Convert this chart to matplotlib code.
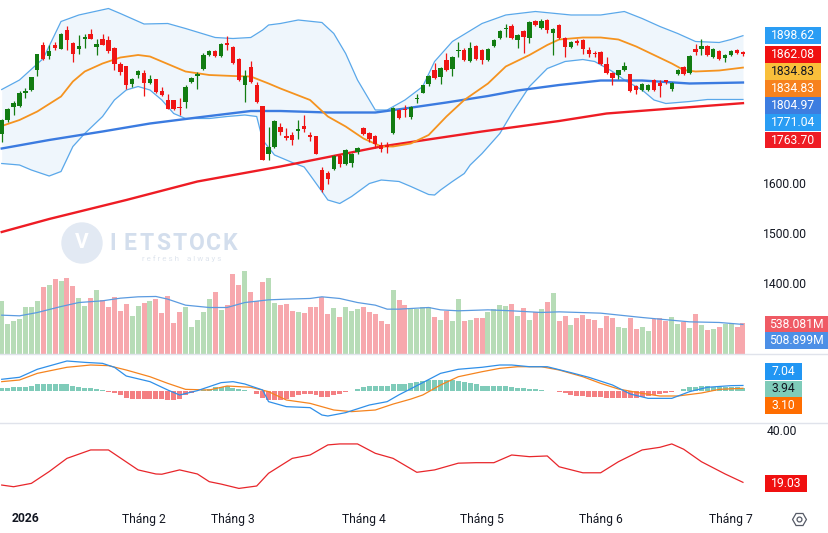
import matplotlib
matplotlib.use('Agg')
import matplotlib.pyplot as plt
import matplotlib.transforms as mtrans
from matplotlib.patches import Rectangle, Ellipse
import numpy as np

plt.rcParams['font.family'] = ['Roboto', 'DejaVu Sans']

W, H = 829, 533

# ---------------- data ----------------
opens = [1703,1730,1757,1759,1785,1791,1830,1880,1858,1880,
         1873,1910,1885,1873,1893,1903,1877,1893,1890,1875,
         1843,1839,1802,1821,1825,1805,1813,1789,1770,1771,
         1756,1767,1807,1818,1832,1860,1868,1858,1883,1877,
         1853,1800,1837,1800,1758,1663,1677,1717,1697,1700,
         1709,1718,1700,1698,1630,1625,1633,1659,1642,1645,
         1667,1715,1705,1699,1681,1679,1705,1750,1752,1737,
         1772,1785,1802,1831,1817,1851,1833,1868,1871,1849,
         1878,1870,1850,1878,1895,1912,1918,1891,1908,1895,
         1929,1915,1931,1905,1921,1895,1877,1889,1890,1870,
         1865,1867,1843,1825,1820,1831,1822,1798,1791,1791,
         1811,1805,1809,1793,1822,1837,1825,1873,1872,1879,
         1857,1869,1855,1860,1871,1867]
highs = [1733,1755,1768,1788,1795,1817,1862,1887,1880,1887,
         1904,1918,1887,1900,1902,1913,1893,1903,1898,1877,
         1847,1839,1815,1831,1830,1820,1813,1796,1782,1771,
         1775,1800,1817,1826,1864,1870,1870,1884,1898,1879,
         1855,1831,1848,1807,1758,1717,1730,1725,1715,1707,
         1731,1741,1707,1698,1637,1628,1660,1662,1673,1664,
         1677,1717,1707,1701,1687,1687,1757,1752,1761,1759,
         1783,1801,1820,1845,1837,1865,1859,1887,1875,1887,
         1880,1872,1875,1893,1910,1923,1922,1903,1910,1928,
         1931,1932,1933,1915,1923,1897,1889,1892,1892,1877,
         1869,1869,1857,1827,1831,1847,1823,1800,1805,1802,
         1813,1810,1810,1807,1833,1839,1861,1883,1893,1881,
         1875,1871,1863,1871,1873,1869]
lows = [1687,1726,1741,1757,1775,1789,1819,1850,1853,1871,
        1873,1871,1847,1863,1875,1893,1860,1881,1865,1831,
        1820,1793,1797,1815,1779,1803,1785,1778,1752,1750,
        1740,1755,1805,1792,1830,1858,1856,1856,1870,1843,
        1808,1767,1805,1765,1651,1651,1675,1700,1690,1680,
        1693,1707,1689,1663,1587,1603,1630,1637,1640,1637,
        1663,1700,1687,1675,1667,1665,1703,1733,1737,1733,
        1765,1784,1798,1813,1803,1829,1819,1857,1848,1847,
        1851,1842,1848,1876,1893,1897,1893,1875,1865,1885,
        1919,1913,1905,1860,1893,1857,1875,1880,1863,1857,
        1857,1841,1823,1800,1813,1829,1787,1782,1789,1789,
        1789,1777,1803,1788,1820,1821,1823,1860,1860,1858,
        1855,1851,1847,1858,1863,1858]
closes = [1730,1753,1765,1785,1788,1817,1862,1853,1868,1875,
          1902,1891,1862,1878,1897,1893,1883,1881,1869,1843,
          1827,1800,1813,1828,1805,1812,1787,1780,1753,1752,
          1754,1797,1815,1823,1861,1868,1859,1882,1881,1845,
          1810,1818,1807,1767,1651,1677,1728,1707,1695,1690,
          1711,1713,1697,1663,1590,1613,1658,1643,1671,1662,
          1675,1702,1693,1683,1673,1677,1755,1735,1750,1757,
          1774,1800,1819,1815,1835,1831,1857,1870,1850,1875,
          1853,1851,1873,1891,1908,1914,1895,1901,1897,1927,
          1921,1929,1911,1913,1895,1877,1887,1885,1873,1862,
          1862,1843,1825,1815,1830,1839,1789,1791,1803,1800,
          1791,1798,1807,1805,1831,1823,1859,1867,1879,1860,
          1873,1853,1861,1869,1865,1862.08]
volumes_m = [910,513,572,600,805,822,910,1155,1196,1300,
             1266,1313,1173,963,835,963,1108,933,822,980,
             735,863,660,835,881,910,951,706,998,531,
             718,805,455,583,718,951,1068,758,846,1388,
             1196,1435,1068,922,1243,1313,881,846,863,747,
             718,706,805,822,980,688,788,630,805,747,
             776,822,718,688,560,513,1108,933,846,770,
             775,805,805,630,583,747,560,951,572,583,
             618,618,718,776,846,835,863,660,788,583,
             718,776,904,1056,572,660,496,613,677,601,
             583,443,660,613,467,443,618,426,467,397,
             601,613,572,630,513,543,443,688,496,408,
             426,467,513,513,467,538.081]
macd_hist = [4.2,4.2,5.1,5.1,5.1,6.1,8.9,9.8,9.8,9.8,
             9.8,9.8,6.5,5.1,4.2,3.7,1.9,0.9,-1.9,-3.3,
             -6.5,-9.8,-11.2,-11.2,-11.2,-11.2,-11.2,-11.2,-12.6,-12.6,
             -11.2,-6.5,-3.3,-0.5,1.4,2.8,5.1,5.1,6.1,4.2,
             2.3,1.4,-0.5,-4.2,-9.8,-13.5,-13.5,-12.6,-11.2,-8.9,
             -6.5,-5.1,-5.1,-6.5,-8.9,-8.9,-6.5,-5.1,-1.9,-0.5,
             2.3,5.1,6.1,6.1,6.1,6.1,8.9,9.8,9.3,11.0,
             12.5,14.0,14.9,14.9,14.9,14.9,14.9,13.5,12.6,11.2,
             9.3,7.0,7.0,7.0,6.5,6.5,5.6,3.3,3.3,2.3,
             2.3,0.9,-0.5,-0.5,-1.4,-3.7,-6.1,-7.5,-7.5,-8.4,
             -8.4,-9.3,-10.7,-10.7,-10.7,-10.7,-10.7,-9.8,-8.4,-7.5,
             -6.1,-4.7,-2.8,-1.4,-0.5,1.9,4.7,5.6,6.5,6.5,
             5.6,5.6,5.6,4.7,4.7,3.94]

# indicator lines sampled at candle indices
bb_up_idx = [0,3,7,10,13,18,20,24,28,31,36,39,42,44,45,47,50,54,56,58,60,63,65,68,71,73,76,81,85,90,96,101,105,108,111,114,117,121,123,125]
bb_up_val = [1791,1810,1853,1927,1940,1953,1943,1922,1923,1913,1895,1893,1895,1910,1920,1923,1930,1925,1903,1863,1810,1750,1750,1770,1797,1847,1887,1923,1940,1947,1940,1940,1947,1933,1917,1903,1887,1885,1891,1898.62]
bb_lo_idx = [0,3,5,8,10,12,14,17,19,21,23,25,27,29,31,35,38,41,43,44,46,
             49,51,52,54,55,57,59,62,64,67,69,72,73,74,76,78,79,81,84,86,89,92,95,98,100,103,105,108,110,112,116,119,125]
bb_lo_val = [1643,1640,1630,1618,1627,1677,1703,1737,1770,1790,1797,1790,1770,1743,1733,1733,1737,1740,1737,1690,1660,
             1645,1636,1620,1587,1570,1563,1577,1603,1610,1607,1597,1581,1580,1590,1607,1623,1640,1663,1703,1743,1797,1833,1847,1851,1847,1827,1810,1790,1770,1763,1767,1771,1771.04]
ma20_idx = [0,3,6,10,12,14,17,20,23,25,29,31,35,39,42,45,47,52,55,58,61,64,66,69,72,75,78,82,85,89,92,94,98,101,104,107,110,113,115,117,121,125]
ma20_val = [1718,1730,1747,1777,1807,1827,1843,1855,1860,1857,1837,1827,1820,1818,1817,1803,1793,1770,1737,1717,1693,1677,1677,1683,1700,1737,1770,1803,1837,1860,1880,1891,1895,1895,1891,1877,1860,1843,1830,1827,1829,1834.83]
ma50_idx = [0,8,17,25,33,42,47,55,63,68,75,82,87,94,101,108,116,125]
ma50_val = [1673,1690,1707,1723,1735,1748,1748,1745,1745,1753,1765,1778,1789,1800,1809,1809,1803,1804.97]
ma200_idx = [0,8,21,33,47,64,81,94,102,113,125]
ma200_val = [1506,1532,1570,1607,1637,1677,1707,1728,1743,1753,1763.70]
vol_ma_idx = [0,3,6,10,13,17,20,23,26,28,31,35,38,41,45,48,52,54,57,60,63,65,67,72,74,77,82,86,91,94,101,108,111,116,121,125]
vol_ma_val = [671,659,717,822,892,922,968,992,998,951,846,805,805,892,939,951,963,992,963,892,846,776,776,805,764,747,764,747,718,729,706,630,601,554,543,508.899]
macd_idx = [0,3,6,11,14,17,19,21,25,28,30,33,37,39,41,44,45,48,52,54,55,58,62,65,67,71,74,77,81,84,86,89,92,96,99,103,106,109,113,116,119,123,125]
macd_val = [15.7,18.5,29.7,41.3,39.4,38,32.5,20.3,12.4,0.7,-6.3,-0.2,11,12.4,9.1,0.7,-15.6,-22.6,-24,-34.3,-35.7,-31,-20.3,-15.6,-6,11,24,29.7,32.5,35.7,35.7,33.3,33.3,25,18.5,7.7,-4.9,-11,-11,-1.6,4.5,6.8,7.04]
signal_idx = [0,3,6,11,15,18,21,25,28,31,35,38,42,45,48,52,56,59,63,66,69,71,74,77,81,84,87,91,94,98,101,104,108,111,114,118,121,125]
signal_val = [12.4,14.7,24,32.5,35.7,34.8,28.7,19.3,10,1.6,0.7,6.3,4.5,-1.6,-13.3,-18,-27.3,-29.6,-27.3,-19,-12,-6.3,7.7,19.3,26.3,31,33.3,33.3,28.7,19.3,10,2.1,-4,-7.7,-7.7,-3.5,1.6,3.10]
rsi_idx = [0,2,5,8,11,15,18,23,26,27,30,33,35,37,40,43,45,49,52,55,57,60,63,66,70,73,77,80,83,86,89,92,94,98,101,104,108,111,113,115,118,122,125]
rsi_val = [17.9,17.2,18.6,23.5,29,32.5,32.5,24.2,22.5,22.4,24.2,22.5,19.3,18.3,16.5,17.5,22.8,29,30.4,34.6,35,35,31.1,29,23.2,24.2,27,27.2,27.2,30.4,29.7,30,25.5,23,23,27.6,32.5,33.6,35,32.8,27.6,22.5,19.03]

price_ticks = [1600, 1500, 1400]
rsi_ticks = [40]
month_idx = [4, 24, 39, 61, 81, 101, 123]
month_lbl = ['2026', 'Tháng 2', 'Tháng 3', 'Tháng 4', 'Tháng 5', 'Tháng 6', 'Tháng 7']
logo_word = 'IETSTOCK'

# ---------------- styles ----------------
GREEN = '#127c12'
RED = '#f01515'
VOL_G = '#b7dcb7'
VOL_R = '#f7a8ad'
BB_LINE = '#5aa8ea'
BB_FILL = '#eff6fc'
ORANGE = '#f5931f'
BLUE50 = '#3b7be0'
RED200 = '#ee1c24'
GRID = '#e0e3eb'
TXT = '#131722'

fig = plt.figure(figsize=(W / 100, H / 100), dpi=100)

def px_axes(x0, y0, x1, y1):
    return fig.add_axes([x0 / W, 1 - y1 / H, (x1 - x0) / W, (y1 - y0) / H])

PLOT_R = 757
MAIN_B = 353.5
n = len(closes)
idx = np.arange(n)
xlim = (-0.29, 127.37)

ax_vol = px_axes(0, 0, PLOT_R, MAIN_B)
ax = px_axes(0, 0, PLOT_R, MAIN_B)
ax_macd = px_axes(0, 354.5, PLOT_R, 422.5)
ax_rsi = px_axes(0, 423.5, PLOT_R, 505)
for a in (ax_vol, ax, ax_macd, ax_rsi):
    a.set_xlim(*xlim)
    a.axis('off')
ax.patch.set_visible(False)

o = np.array(opens); c = np.array(closes); h = np.array(highs); l = np.array(lows)
up = c >= o

# volume
ax_vol.set_ylim(0, 6186)
ax_vol.bar(idx, volumes_m, width=0.84, color=np.where(up, VOL_G, VOL_R), linewidth=0, zorder=1)
ax_vol.plot(vol_ma_idx, vol_ma_val, color='#5b9be0', lw=0.9, zorder=2)

# watermark (logo)
ax_vol.add_patch(Ellipse((82 / PLOT_R, 1 - 243 / MAIN_B), 40 / PLOT_R, 40 / MAIN_B,
                         transform=ax_vol.transAxes, color='#e2e9f3', zorder=0.5))
ax_vol.text(82 / PLOT_R, 1 - 242 / MAIN_B, 'V', transform=ax_vol.transAxes, ha='center', va='center',
            fontsize=15, color='white', fontweight='bold', zorder=0.6)
letter_x = np.linspace(113, 230, len(logo_word))
for lx, ch in zip(letter_x, logo_word):
    ax_vol.text(lx / PLOT_R, 1 - 243 / MAIN_B, ch, transform=ax_vol.transAxes, ha='center', va='center',
                fontsize=16.5, color='#d3deed', fontweight='bold', zorder=0.6)
ax_vol.text(182 / PLOT_R, 1 - 259 / MAIN_B, 'r e f r e s h    a l w a y s', transform=ax_vol.transAxes,
            ha='center', va='center', fontsize=5.8, color='#dfe5ee', zorder=0.6)

# price
ax.set_ylim(1263, 1970)
xs = np.arange(0, n)
ax.fill_between(xs, np.interp(xs, bb_up_idx, bb_up_val),
                np.interp(xs, bb_lo_idx, bb_lo_val), color=BB_FILL, lw=0, zorder=1)
ax.plot(bb_up_idx, bb_up_val, color=BB_LINE, lw=0.9, zorder=2)
ax.plot(bb_lo_idx, bb_lo_val, color=BB_LINE, lw=0.9, zorder=2)
ax.plot(ma200_idx, ma200_val, color=RED200, lw=1.7, zorder=3)
ax.plot(ma50_idx, ma50_val, color=BLUE50, lw=1.7, zorder=3)
ax.plot(ma20_idx, ma20_val, color=ORANGE, lw=1.3, zorder=3)

cols = np.where(up, GREEN, RED)
ax.vlines(idx, l, h, colors=cols, lw=0.9, zorder=4)
body_lo = np.minimum(o, c)
body_h = np.maximum(np.abs(c - o), 2.2)
ax.bar(idx, body_h, bottom=body_lo, width=0.74, color=cols, linewidth=0, zorder=5)

# MACD
ax_macd.set_ylim(-44.8, 50.4)
ax_macd.bar(idx, macd_hist, width=0.84, color=np.where(np.array(macd_hist) >= 0, '#7fcbb9', '#f47f82'),
            linewidth=0, zorder=1)
ax_macd.plot(macd_idx, macd_val, color='#2f8fe8', lw=0.9, zorder=3)
ax_macd.plot(signal_idx, signal_val, color='#f5841f', lw=0.9, zorder=2)

# RSI
ax_rsi.set_ylim(9.6, 43.5)
ax_rsi.plot(rsi_idx, rsi_val, color='#e8262b', lw=0.9)

# separators
for yy in (354, 423):
    fig.add_artist(plt.Line2D([0, 1], [1 - yy / H, 1 - yy / H], transform=fig.transFigure,
                              color=GRID, lw=1))

# right scale tick labels
bt = mtrans.blended_transform_factory(fig.transFigure, ax.transData)
for t in price_ticks:
    ax.text(785 / W, t, f'{t:.2f}', transform=bt, ha='center', va='center', fontsize=8.7,
            color=TXT, clip_on=False)
bt_r = mtrans.blended_transform_factory(fig.transFigure, ax_rsi.transData)
for t in rsi_ticks:
    ax_rsi.text(782 / W, t, f'{t:.2f}', transform=bt_r, ha='center', va='center', fontsize=8.7,
                color=TXT, clip_on=False)

def label(txt, x0, x1, yc, bg, fg='white', hgt=16.5):
    fig.add_artist(Rectangle((x0 / W, 1 - (yc + hgt / 2) / H), (x1 - x0) / W, hgt / H,
                             transform=fig.transFigure, color=bg, lw=0))
    fig.text((x0 + x1) / 2 / W, 1 - yc / H, txt, ha='center', va='center', fontsize=8.7, color=fg)

label(f'{bb_up_val[-1]:.2f}', 765, 821, 35.5, '#2a9df4')
label(f'{closes[-1]:.2f}', 765, 821, 54.5, '#f01010')
label(f'{ma20_val[-1]:.2f}', 765, 821, 71.5, '#f9bf3b', TXT)
label(f'{ma20_val[-1]:.2f}', 765, 821, 88.5, '#f7821e')
label(f'{ma50_val[-1]:.2f}', 765, 821, 105.5, '#3d7de0')
label(f'{bb_lo_val[-1]:.2f}', 765, 821, 122.5, '#2a9df4')
label(f'{ma200_val[-1]:.2f}', 765, 821, 140, '#ef1c24')
label(f'{volumes_m[-1]:.3f}M', 765, 828, 324, '#ef5a64')
label(f'{vol_ma_val[-1]:.3f}M', 765, 828, 340.5, '#4c8fe6')
label(f'{macd_val[-1]:.2f}', 765, 802, 371.5, '#2196f3')
label(f'{macd_hist[-1]:.2f}', 765, 802, 389, '#7fcbb9', TXT)
label(f'{signal_val[-1]:.2f}', 765, 802, 405.5, '#ff6d00')
label(f'{rsi_val[-1]:.2f}', 765, 807, 483.5, '#f01010')

# time axis labels
bx = mtrans.blended_transform_factory(ax_rsi.transData, fig.transFigure)
for mi, ml in zip(month_idx, month_lbl):
    ax_rsi.text(mi, 1 - 519 / H, ml, transform=bx, ha='center', va='center', fontsize=8.7,
                color=TXT, fontweight='bold' if ml == '2026' else 'normal', clip_on=False)

# settings icon
fig.add_artist(plt.Line2D([799 / W], [1 - 519 / H], marker='H', markersize=10, markerfacecolor='none',
                          markeredgecolor='#555a66', markeredgewidth=0.9, transform=fig.transFigure))
fig.add_artist(plt.Line2D([799 / W], [1 - 519 / H], marker='o', markersize=3.5, markerfacecolor='none',
                          markeredgecolor='#555a66', markeredgewidth=0.9, transform=fig.transFigure))

fig.savefig('out.png', dpi=100, facecolor='white')
